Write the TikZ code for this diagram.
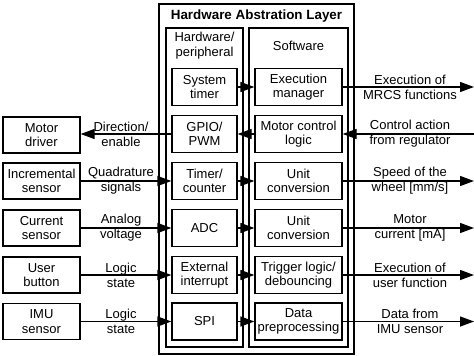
\documentclass[tikz,border=0pt]{standalone}
\usepackage{fontspec}
\setmainfont{Liberation Sans}
\usetikzlibrary{arrows.meta}
\begin{document}
\begin{tikzpicture}[x=1pt,y=-1pt,
  font=\fontsize{13}{14.5}\selectfont,
  box/.style={draw,line width=1.3pt,align=center,inner sep=0pt,minimum height=37pt},
  hw/.style={box,minimum width=65pt},
  sw/.style={box,minimum width=87pt},
  ext/.style={box,minimum width=77pt,minimum height=36pt},
  frame/.style={draw,line width=1.3pt},
  sig/.style={line width=1.3pt,-{Triangle[length=14pt,width=10pt]}},
  lbl/.style={align=center,inner sep=0pt,font=\fontsize{13}{15}\selectfont}]
\useasboundingbox (0,0) rectangle (474,356);
% frames
\draw[frame] (159,4) rectangle (354,354);
\draw[frame] (166,28) rectangle (243,347);
\draw[frame] (249,28) rectangle (348,347);
\node[font=\bfseries\fontsize{13.4}{14.5}\selectfont] (title) at (256.5,16) {Hardware Abstration Layer};
\node[lbl] (hwt) at (204.5,46) {Hardware/\\peripheral};
\node (swt) at (298.5,46) {Software};
% hardware boxes
\node[hw] (st) at (204.5,87) {System\\timer};
\node[hw] (gpio) at (204.5,134) {GPIO/\\PWM};
\node[hw] (tc) at (204.5,181) {Timer/\\counter};
\node[hw] (adc) at (204.5,228) {ADC};
\node[hw] (ei) at (204.5,275) {External\\interrupt};
\node[hw] (spi) at (204.5,321.5) {SPI};
% software boxes
\node[sw] (em) at (298.5,87) {Execution\\manager};
\node[sw] (mcl) at (298.5,134) {Motor control\\logic};
\node[sw] (uc1) at (298.5,181) {Unit\\conversion};
\node[sw] (uc2) at (298.5,228) {Unit\\conversion};
\node[sw] (tl) at (298.5,275) {Trigger logic/\\debouncing};
\node[sw] (dp) at (298.5,321.5) {Data\\preprocessing};
% external boxes
\node[ext] (md) at (41.5,135) {Motor\\driver};
\node[ext] (inc) at (41.5,181) {Incremental\\sensor};
\node[ext] (cur) at (41.5,228) {Current\\sensor};
\node[ext] (ub) at (41.5,275) {User\\button};
\node[ext] (imu) at (41.5,321.5) {IMU\\sensor};
% right end coordinates
\coordinate (r1) at (474,87);
\coordinate (r2) at (474,134);
\coordinate (r3) at (474,181);
\coordinate (r4) at (474,228);
\coordinate (r5) at (474,275);
\coordinate (r6) at (474,321.5);
% hw <-> sw
\draw[sig] (st) -- (em);
\draw[sig] (mcl) -- (gpio);
\draw[sig] (tc) -- (uc1);
\draw[sig] (adc) -- (uc2);
\draw[sig] (ei) -- (tl);
\draw[sig] (spi) -- (dp);
% left
\draw[sig] (gpio.west) -- (md.east |- gpio.west);
\draw[sig] (inc) -- (tc);
\draw[sig] (cur) -- (adc);
\draw[sig] (ub) -- (ei);
\draw[sig] (imu) -- (spi);
% right
\draw[sig] (em) -- (r1);
\draw[sig] (r2) -- (mcl);
\draw[sig] (uc1) -- (r3);
\draw[sig] (uc2) -- (r4);
\draw[sig] (tl) -- (r5);
\draw[sig] (dp) -- (r6);
% labels left
\node[lbl] (l1) at (121,134.5) {Direction/\\enable};
\node[lbl] (l2) at (121,181) {Quadrature\\signals};
\node[lbl] (l3) at (121,228) {Analog\\voltage};
\node[lbl] (l4) at (121,275) {Logic\\state};
\node[lbl] (l5) at (121,321.5) {Logic\\state};
% labels right
\node[lbl] (q1) at (410,87) {Execution of\\MRCS functions};
\node[lbl] (q2) at (410,134) {Control action\\from regulator};
\node[lbl] (q3) at (410,181) {Speed of the\\wheel [mm/s]};
\node[lbl] (q4) at (410,228) {Motor\\current [mA]};
\node[lbl] (q5) at (410,275) {Execution of\\user function};
\node[lbl] (q6) at (410,321.5) {Data from\\IMU sensor};
\end{tikzpicture}
\end{document}
